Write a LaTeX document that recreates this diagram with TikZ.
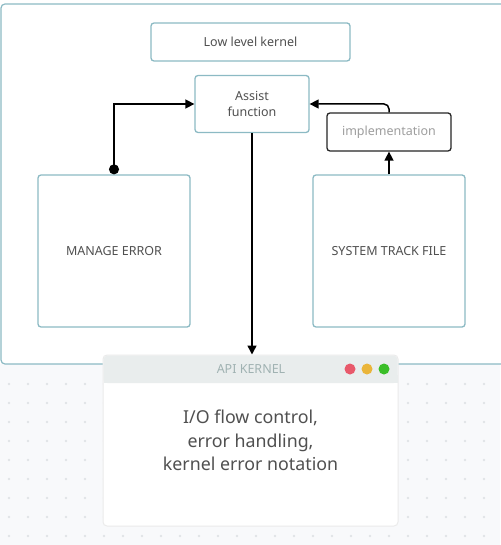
\documentclass[tikz,border=0pt]{standalone}
\usepackage{fontspec}
\setmainfont{Noto Sans}
\usetikzlibrary{arrows.meta}
\definecolor{marcocol}{RGB}{140,186,196}
\definecolor{textocol}{RGB}{80,80,80}
\definecolor{papelcol}{RGB}{248,249,251}
\definecolor{puntocol}{RGB}{224,227,231}
\definecolor{barracol}{RGB}{233,237,237}
\definecolor{titulocol}{RGB}{160,178,178}
\definecolor{rojo}{RGB}{232,89,107}
\definecolor{amarillo}{RGB}{234,181,58}
\definecolor{verde}{RGB}{58,190,40}
\newcommand{\puntostikz}{
    \foreach \x in {9,28,...,500} {
      \foreach \y in {384,403,...,545} {
          \fill[puntocol] (\x,\y) circle (1.3);
    }
    }
}

\begin{document}
\begin{tikzpicture}[x=1pt, y=-1pt, font=\fontsize{12.5}{16}\selectfont,
  caja/.style={draw=marcocol, line width=1.3pt, rounded corners=3pt, fill=white,
    text=textocol, inner sep=0pt, align=center},
  flecha/.style={line width=1.5pt, -{Triangle[length=9pt,width=9pt]}}] % {{{
\useasboundingbox (0,0) rectangle (500,545);
\fill[papelcol] (0,0) rectangle (500,545);
\fill[white] (0,0) rectangle (500,364);
\puntostikz{}
\draw[marcocol, line width=1.2pt, rounded corners=4pt] (510,364) -- (1,364) -- (1,4) -- (510,4);
\begin{scope} % Bloques {{{
\node[caja, minimum width=199, minimum height=38] (lowlevel) at (250.5,42) {Low level kernel};
\node[caja, minimum width=114, minimum height=57] (assist) at (252,104) {Assist\\function};
\node[caja, draw=black!85, text=black!38, minimum width=124, minimum height=38] (impl) at (389,132) {implementation};
\node[caja, minimum width=152, minimum height=152] (manage) at (114,251) {MANAGE ERROR};
\node[caja, minimum width=152, minimum height=152] (track) at (389,251) {SYSTEM TRACK FILE};
\end{scope} % }}}
\begin{scope}[shift={(0,0)}] % API KERNEL {{{
\node[draw=black!8, line width=1pt, fill=white, rounded corners=4pt, minimum width=295,
  minimum height=171, inner sep=0pt, align=center, text=textocol,
  font=\fontsize{17.8}{23.5}\selectfont] (api) at (250.5,440.5)
  {I/O flow control,\\error handling,\\kernel error notation};
\fill[barracol, rounded corners=4pt] (103.5,355.5) rectangle (397.5,383);
\fill[barracol] (103.5,375) rectangle (397.5,383);
\node[text=titulocol] (apititle) at (251,369) {API KERNEL};
\foreach \c/\x in {rojo/350,amarillo/367,verde/384} {
  \fill[\c] (\x,369) circle (5.5);
}
\end{scope} % }}}
% flechas
\draw[flecha, {Circle[length=10pt]}-{Triangle[length=9pt,width=9pt]}] (manage.north) |- (assist.west);
\draw[flecha, rounded corners=5pt] (impl.north) |- (assist.east);
\draw[flecha] (track.north) -- (impl.south);
\draw[flecha] (assist.south) -- (assist.south |- api.north);
\end{tikzpicture} % }}}
\end{document}
